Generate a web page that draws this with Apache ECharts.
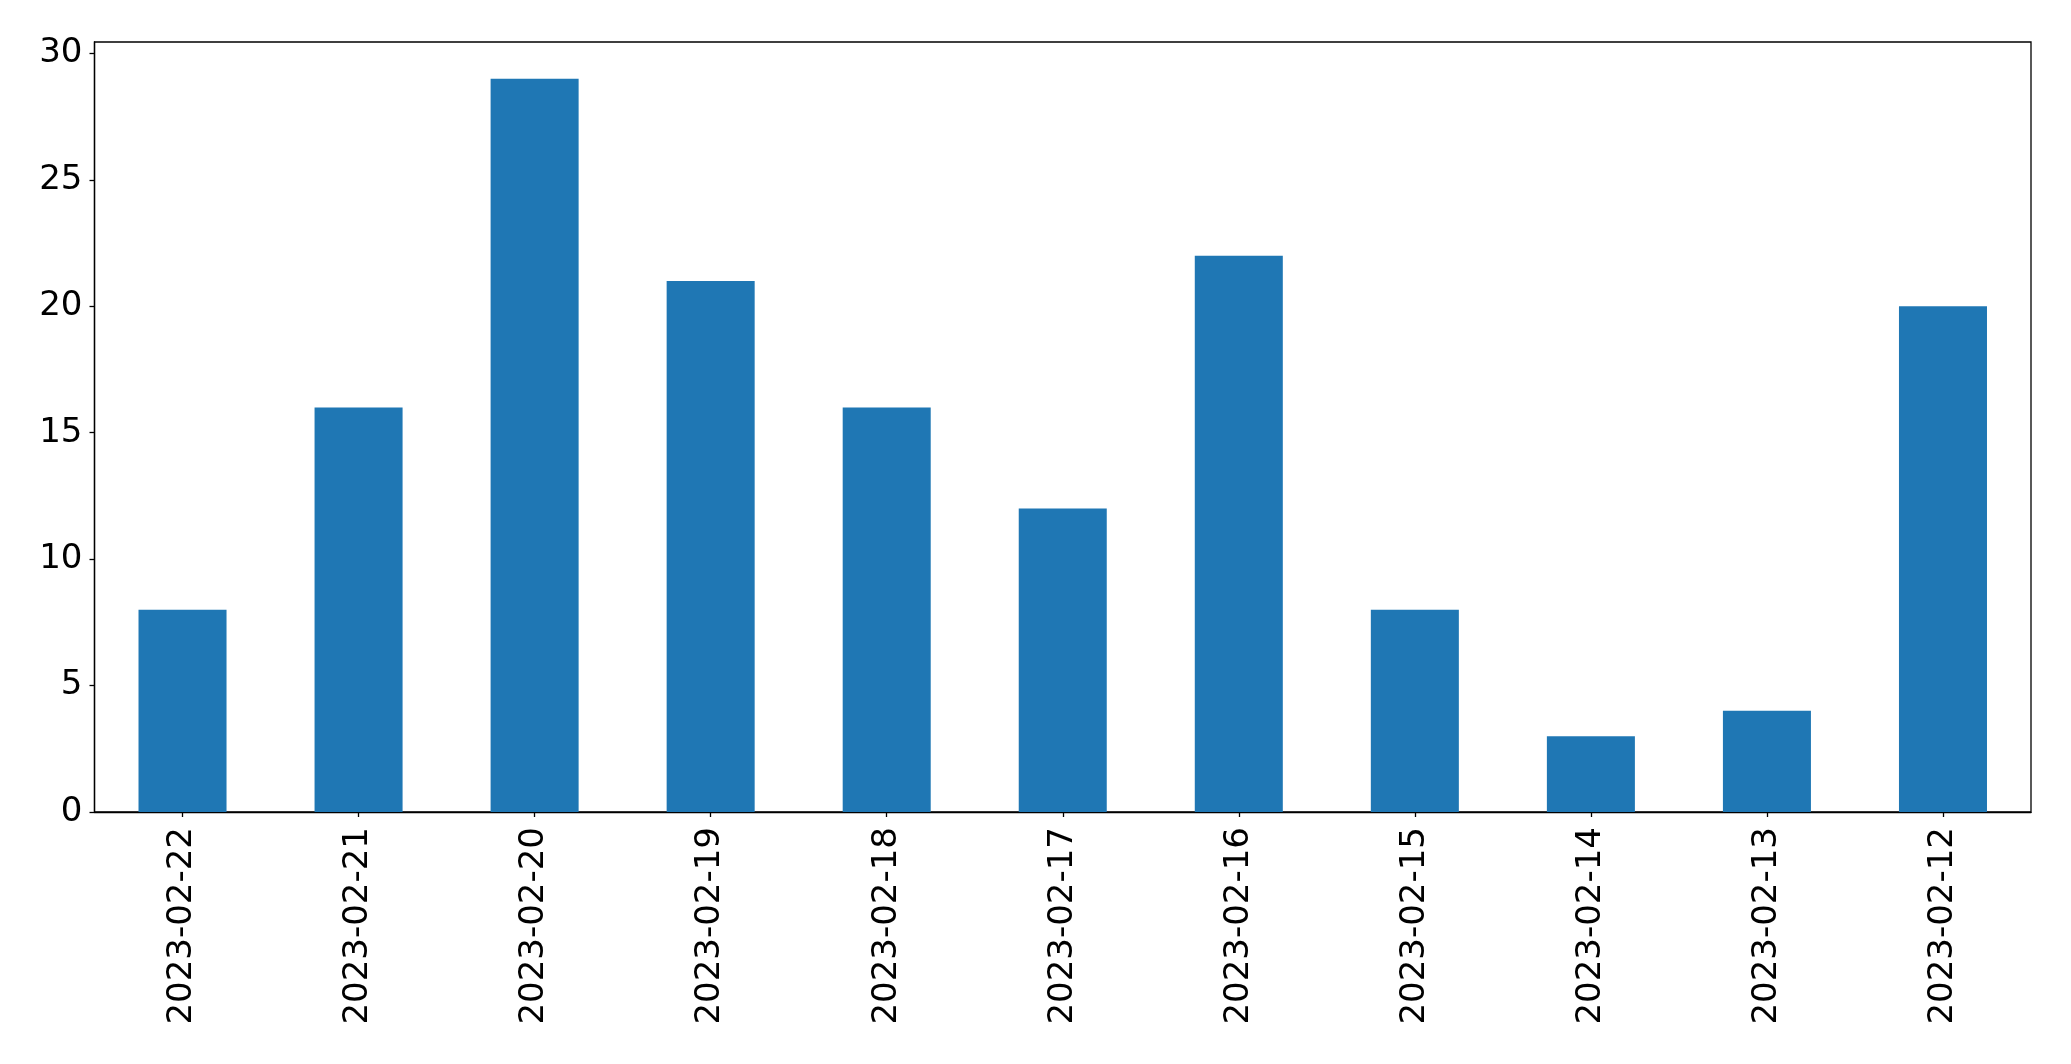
<!DOCTYPE html>
<html>
<head>
<meta charset="utf-8">
<script src="https://cdn.jsdelivr.net/npm/echarts@6/dist/echarts.min.js"></script>
<style>html,body{margin:0;padding:0;background:#fff}#c{width:2071px;height:1064px}</style>
</head>
<body>
<div id="c"></div>
<script>
const categories = ['2023-02-22','2023-02-21','2023-02-20','2023-02-19','2023-02-18','2023-02-17','2023-02-16','2023-02-15','2023-02-14','2023-02-13','2023-02-12'];
const values = [8,16,29,21,16,12,22,8,3,4,20];
const yTicks = [0,5,10,15,20,25,30];

const chart = echarts.init(document.getElementById('c'), null, {renderer:'canvas'});
const font = 'DejaVu Sans';
chart.setOption({
  animation:false,
  grid:{left:94.5,top:42,right:40,bottom:252,show:true,borderColor:'#000',borderWidth:1.3,backgroundColor:'transparent'},
  xAxis:{
    type:'category',data:categories,
    axisLine:{show:true,lineStyle:{color:'#000',width:1.3}},
    axisTick:{show:true,alignWithLabel:true,length:5,lineStyle:{color:'#000',width:1.3}},
    axisLabel:{rotate:90,margin:15,color:'#000',fontSize:34,fontFamily:font,interval:0},
    splitLine:{show:false}
  },
  yAxis:{
    type:'value',min:0,max:30.45,interval:5,
    axisLine:{show:true,lineStyle:{color:'#000',width:1.3}},
    axisTick:{show:true,length:5,lineStyle:{color:'#000',width:1.3},customValues:yTicks},
    axisLabel:{margin:12,color:'#000',fontSize:34,fontFamily:font,customValues:yTicks},
    splitLine:{show:false}
  },
  series:[{type:'bar',data:values,barWidth:'50%',itemStyle:{color:'#1f77b4'}}]
});
</script>
</body>
</html>
